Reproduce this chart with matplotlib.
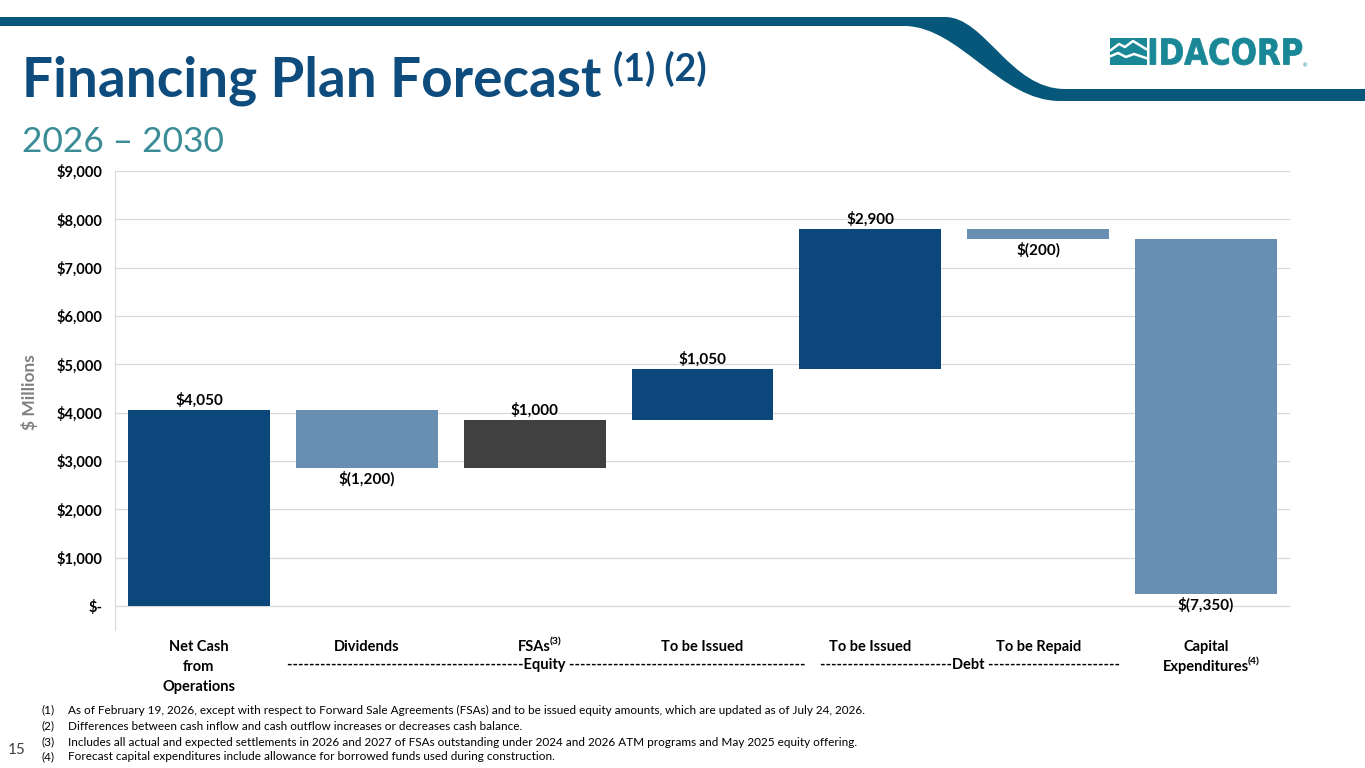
import matplotlib
matplotlib.use('Agg')
import matplotlib.pyplot as plt
from matplotlib.path import Path
from matplotlib.patches import PathPatch, Rectangle
from matplotlib.textpath import TextPath
from matplotlib.font_manager import FontProperties
from matplotlib.ticker import FuncFormatter
from matplotlib.transforms import Affine2D
import numpy as np

plt.rcParams['font.family'] = ['Lato', 'DejaVu Sans']

# data ($ millions, 2026-2030)
categories = ['Net Cash\nfrom\nOperations', 'Dividends', 'FSAs', 'To be Issued',
              'To be Issued', 'To be Repaid', 'Capital\nExpenditures']
category_notes = ['', '', '(3)', '', '', '', '(4)']
values = [4050, -1200, 1000, 1050, 2900, -200, -7350]
y_ticks = [0, 1000, 2000, 3000, 4000, 5000, 6000, 7000, 8000, 9000]
footnotes = [
    'As of February 19, 2026, except with respect to Forward Sale Agreements (FSAs) and to be issued equity amounts, which are updated as of July 24, 2026.',
    'Differences between cash inflow and cash outflow increases or decreases cash balance.',
    'Includes all actual and expected settlements in 2026 and 2027 of FSAs outstanding under 2024 and 2026 ATM programs and May 2025 equity offering.',
    'Forecast capital expenditures include allowance for borrowed funds used during construction.',
]

# colours
NAVY = '#0B477A'
STEEL = '#688FB1'
GRAY = '#404040'
BAND = '#07577A'
TEAL = '#1A8797'
TITLE = '#0E4C7D'
SUB = '#3A8C96'
bar_colors = [NAVY, STEEL, GRAY, NAVY, NAVY, STEEL, STEEL]

W, H = 1365, 768
fig = plt.figure(figsize=(W / 100, H / 100), dpi=100)

# overlay in pixel coordinates for slide decorations
ov = fig.add_axes([0, 0, 1, 1], zorder=0)
ov.set_xlim(0, W)
ov.set_ylim(H, 0)
ov.axis('off')

verts = [(0, 17), (945, 17), (985, 17), (1010, 89), (1065, 89), (W, 89), (W, 101),
         (1060, 101), (1000, 101), (960, 27), (905, 26), (0, 26), (0, 17)]
codes = [Path.MOVETO, Path.LINETO, Path.CURVE4, Path.CURVE4, Path.CURVE4, Path.LINETO,
         Path.LINETO, Path.LINETO, Path.CURVE4, Path.CURVE4, Path.CURVE4, Path.LINETO,
         Path.CLOSEPOLY]
ov.add_patch(PathPatch(Path(verts, codes), facecolor=BAND, lw=0))

# logo
ov.add_patch(Rectangle((1110, 38), 37, 27, facecolor=TEAL, lw=0))
ov.plot([1111, 1119, 1125, 1133, 1146], [50, 44, 47, 41, 49], color='white', lw=1.8)
ov.plot([1111, 1118, 1126, 1134, 1146], [56, 53, 57, 54, 58], color='white', lw=1.8)
tp = TextPath((0, 0), 'IDACORP', size=100, prop=FontProperties(family='DejaVu Sans', weight='bold'))
ext = tp.get_extents()
tr = Affine2D().translate(-ext.x0, -ext.y0).scale(152 / ext.width, -27 / ext.height).translate(1150, 65)
ov.add_patch(PathPatch(tr.transform_path(tp), facecolor=TEAL, edgecolor=TEAL, lw=0.6))
ov.text(1305, 66, '®', fontsize=4, color=TEAL, ha='center', va='center')

# title
ov.text(22, 97, 'Financing Plan Forecast', fontsize=39.5, fontweight='bold', color=TITLE,
        ha='left', va='baseline')
ov.text(613, 81, '(1) (2)', fontsize=27, fontweight='bold', color=TITLE, ha='left', va='baseline')
ov.text(22, 152, '2026 – 2030', fontsize=25.5, color=SUB, ha='left', va='baseline')

# chart
ax = fig.add_axes([115 / W, 1 - 630 / H, 1175 / W, 459 / H], zorder=1)
ax.set_facecolor('none')
x = np.arange(len(values))
ends = np.cumsum(values)
starts = ends - np.array(values)
bottoms = np.minimum(starts, ends)
heights = np.abs(values)
ax.bar(x, heights, bottom=bottoms, width=0.845, color=bar_colors, zorder=2)

for xi, v, e in zip(x, values, ends):
    lab = f'${v:,.0f}' if v > 0 else f'$({-v:,.0f})'
    if v > 0:
        ax.annotate(lab, (xi, e), xytext=(0, 1.5), textcoords='offset points',
                    ha='center', va='bottom', fontsize=11, fontweight='bold')
    else:
        ax.annotate(lab, (xi, e), xytext=(0, -2.5), textcoords='offset points',
                    ha='center', va='top', fontsize=11, fontweight='bold')

ax.set_xlim(-0.5, len(values) - 0.5)
ax.set_ylim(-500, 9000)
ax.set_yticks(y_ticks)
ax.yaxis.set_major_formatter(FuncFormatter(lambda v, p: '$-' if v == 0 else f'${v:,.0f}'))
ax.grid(axis='y', color='#D9D9D9', lw=0.9, zorder=0)
ax.set_axisbelow(True)
for side in ['top', 'right', 'bottom']:
    ax.spines[side].set_visible(False)
ax.spines['left'].set_color('#D9D9D9')
ax.tick_params(axis='y', length=0, pad=9, labelsize=10.5)
for t in ax.get_yticklabels():
    t.set_fontweight('bold')
ax.set_xticks(x)
ax.set_xticklabels(categories, fontsize=10.5, fontweight='bold', linespacing=1.55, va='top')
ax.tick_params(axis='x', length=0, pad=7)
ax.set_ylabel('$ Millions', fontsize=12.5, fontweight='bold', color='#808080')
ax.yaxis.set_label_coords((38 - 115) / 1175, (630 - 392) / 459)

# footnote markers on category labels
fig.canvas.draw()
for lbl, note in zip(ax.get_xticklabels(), category_notes):
    if not note:
        continue
    if '\n' in lbl.get_text():
        ax.annotate(note, xy=(1, 0), xycoords=lbl, xytext=(-1.2, 5), textcoords='offset points',
                    ha='left', va='bottom', fontsize=7.5, fontweight='bold')
    else:
        ax.annotate(note, xy=(1, 1), xycoords=lbl, xytext=(-1.2, 2), textcoords='offset points',
                    ha='left', va='top', fontsize=7.5, fontweight='bold')

# group brackets
ov.text(546, 665, '-' * 43 + 'Equity ' + '-' * 43, fontsize=10.5, fontweight='bold',
        ha='center', va='center')
ov.text(970, 665, '-' * 24 + 'Debt ' + '-' * 24, fontsize=10.5, fontweight='bold',
        ha='center', va='center')

# footnotes
for i, (fy, note) in enumerate(zip([710, 726, 742, 757], footnotes)):
    ov.text(42, fy, f'({i + 1})', fontsize=8.5, ha='left', va='center')
    ov.text(68, fy, note, fontsize=8.5, ha='left', va='center')
ov.text(8, 750, '15', fontsize=11, color='#404040', ha='left', va='center')

fig.savefig('out.png', dpi=100)
